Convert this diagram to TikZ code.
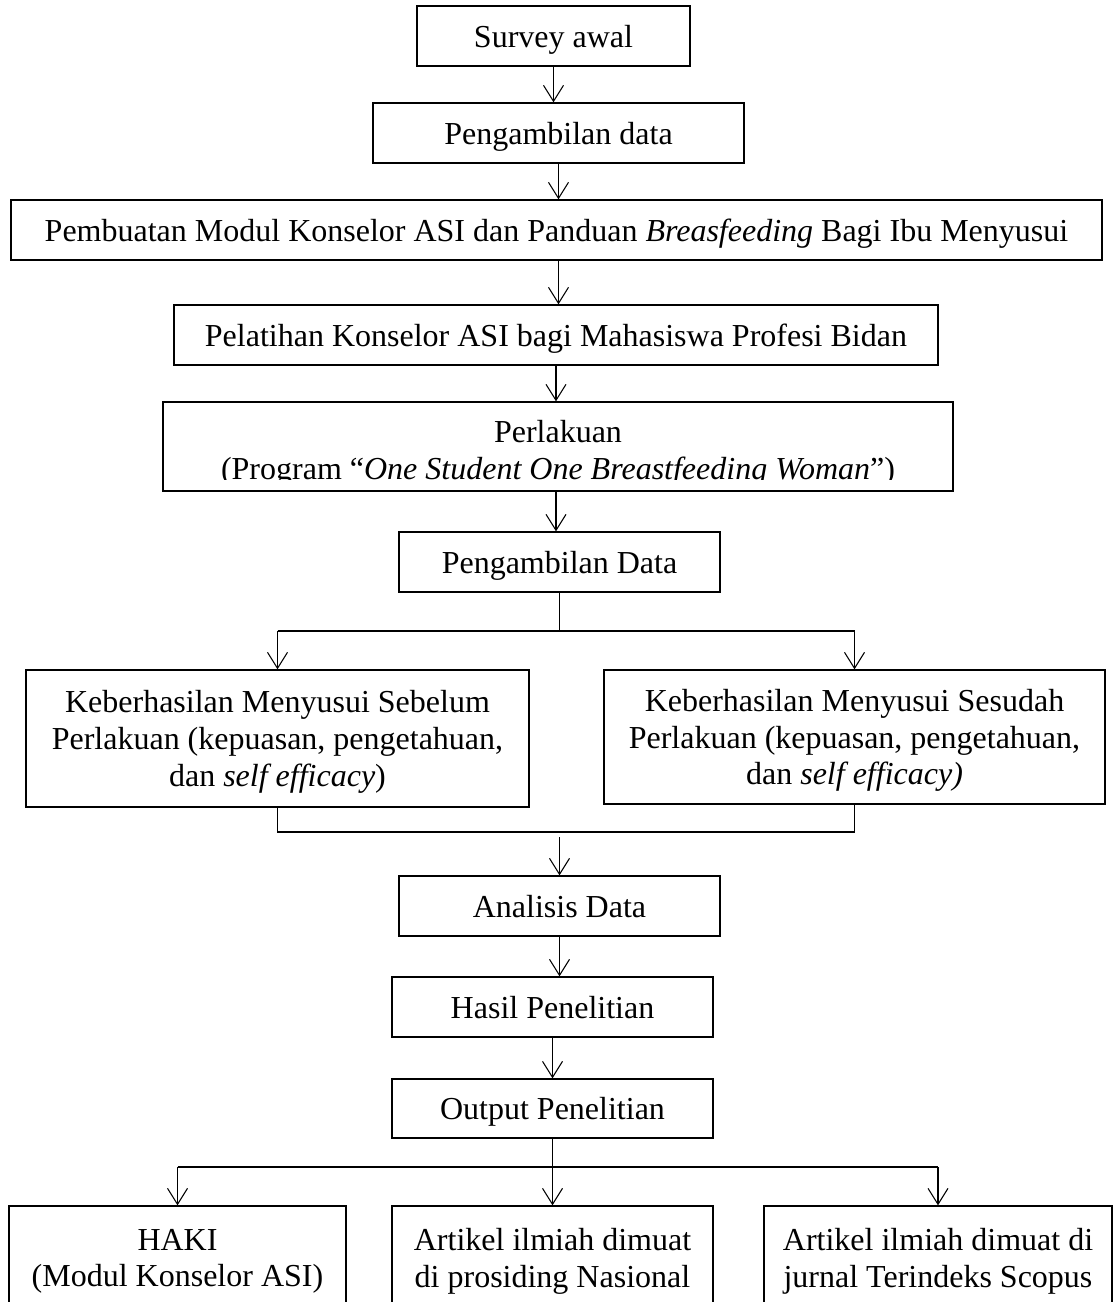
\documentclass[tikz,border=0pt]{standalone}
\usepackage{fontspec}
\setmainfont{Liberation Serif}
\usetikzlibrary{arrows.meta}
\newcommand{\pxl}{0.375pt}

\begin{document}
\begin{tikzpicture}[x=0.375pt, y=-0.375pt,
  kotak/.style={draw, line width=0.5pt, align=center, inner sep=0pt, text depth=0pt,
    font=\fontsize{12pt}{13.8pt}\selectfont},
  panah/.style={line width=0.4pt, -{Straight Barb[length=6pt, width=7.5pt]}},
  garis/.style={line width=0.4pt}]
\useasboundingbox (0,0) rectangle (1113,1302);
\clip (0,0) rectangle (1113,1302);

%Kotak atas
\node[kotak, minimum width=273*\pxl, minimum height=60*\pxl] (survey) at (553.5,36) {Survey awal};
\node[kotak, minimum width=371*\pxl, minimum height=60*\pxl] (data1) at (558.5,133) {Pengambilan data};
\node[kotak, minimum width=1091*\pxl, minimum height=60*\pxl] (modul) at (556.5,230) {Pembuatan Modul Konselor ASI dan Panduan \textit{Breasfeeding} Bagi Ibu Menyusui};
\node[kotak, minimum width=764*\pxl, minimum height=60*\pxl] (latih) at (556,335) {Pelatihan Konselor ASI bagi Mahasiswa Profesi Bidan};

%Perlakuan (teks terpotong)
\node[kotak, minimum width=790*\pxl, minimum height=89*\pxl] (perlakuan) at (558,446.5) {};
\begin{scope}
\clip (perlakuan.north west) rectangle (953,479);
\node[kotak, draw=none] (perlakuanteks) at (558,450) {Perlakuan\\(Program “\textit{One Student One Breastfeeding Woman}”)};
\end{scope}

\node[kotak, minimum width=321*\pxl, minimum height=60*\pxl] (data2) at (559.5,562) {Pengambilan Data};

%Sebelum - sesudah
\node[kotak, minimum width=503*\pxl, minimum height=137*\pxl] (pre) at (277.5,738.5) {Keberhasilan Menyusui Sebelum\\Perlakuan (kepuasan, pengetahuan,\\dan \textit{self efficacy})};
\node[kotak, minimum width=501*\pxl, minimum height=134*\pxl] (post) at (854.5,737) {Keberhasilan Menyusui Sesudah\\Perlakuan (kepuasan, pengetahuan,\\dan \textit{self efficacy)}};

\node[kotak, minimum width=321*\pxl, minimum height=60*\pxl] (analisis) at (559.5,906) {Analisis Data};
\node[kotak, minimum width=321*\pxl, minimum height=60*\pxl] (hasil) at (552.5,1007) {Hasil Penelitian};
\node[kotak, minimum width=321*\pxl, minimum height=59*\pxl] (output) at (552.5,1108.5) {Output Penelitian};

%Kotak bawah
\node[kotak, minimum width=337*\pxl, minimum height=104*\pxl] (haki) at (177.5,1258) {HAKI\\(Modul Konselor ASI)};
\node[kotak, minimum width=321*\pxl, minimum height=104*\pxl] (prosiding) at (552.5,1258) {Artikel ilmiah dimuat\\di prosiding Nasional};
\node[kotak, minimum width=348*\pxl, minimum height=104*\pxl] (scopus) at (938,1258) {Artikel ilmiah dimuat di\\jurnal Terindeks Scopus};

%Panah
\draw[panah] (survey.south) -- (survey.south |- data1.north);
\draw[panah] (data1.south) -- (data1.south |- modul.north);
\draw[panah] (data1.south |- modul.south) -- (data1.south |- latih.north);
\draw[panah] (latih.south) -- (latih.south |- perlakuan.north);
\draw[panah] (latih.south |- perlakuan.south) -- (latih.south |- data2.north);

\coordinate (cabangA) at (559,631);
\draw[garis] (data2.south) -- (data2.south |- cabangA);
\draw[garis] (pre.north |- cabangA) -- (post.north |- cabangA);
\draw[panah] (pre.north |- cabangA) -- (pre.north);
\draw[panah] (post.north |- cabangA) -- (post.north);

\coordinate (gabung) at (559,832);
\coordinate (gabungB) at (559,837);
\draw[garis] (pre.south) -- (pre.south |- gabung) -- (post.south |- gabung) -- (post.south);
\draw[panah] (analisis.north |- gabungB) -- (analisis.north);
\draw[panah] (analisis.south) -- (analisis.south |- hasil.north);
\draw[panah] (hasil.south) -- (hasil.south |- output.north);

\coordinate (cabangB) at (556,1167);
\draw[garis] (output.south) -- (output.south |- cabangB);
\draw[garis] (haki.north |- cabangB) -- (scopus.north |- cabangB);
\foreach \n in {haki, prosiding, scopus}
  \draw[panah] (\n.north |- cabangB) -- (\n.north);
\end{tikzpicture}
\end{document}
